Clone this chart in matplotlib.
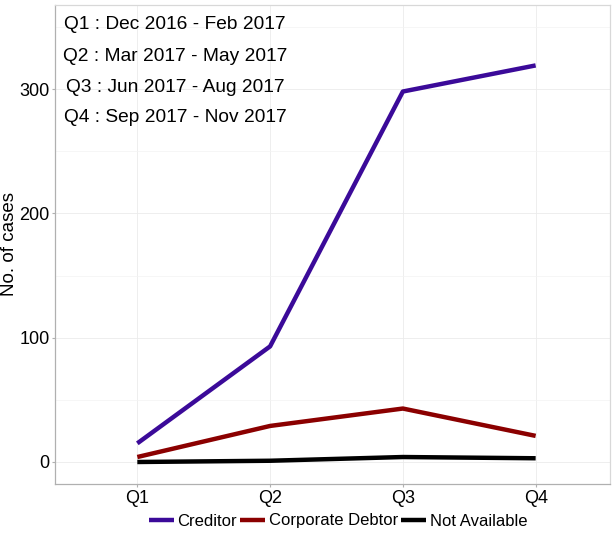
import matplotlib
matplotlib.use("Agg")
import matplotlib.pyplot as plt
from matplotlib.ticker import MultipleLocator

quarters = ["Q1", "Q2", "Q3", "Q4"]
creditor = [15, 93, 298, 319]
corporate_debtor = [4, 29, 43, 21]
not_available = [0, 1, 4, 3]
notes = ["Q1 : Dec 2016 - Feb 2017", "Q2 : Mar 2017 - May 2017",
         "Q3 : Jun 2017 - Aug 2017", "Q4 : Sep 2017 - Nov 2017"]
note_y = [352, 326.5, 301, 277]

plt.rcParams['font.family'] = ['Liberation Sans', 'DejaVu Sans']

fig = plt.figure(figsize=(6.12, 5.34), dpi=100)
ax = fig.add_axes([55/612, 50/534, 555/612, 479/534])

x = list(range(len(quarters)))
ax.plot(x, creditor, color="#3b0a99", lw=3.2, label="Creditor", solid_capstyle="butt")
ax.plot(x, corporate_debtor, color="#8b0000", lw=3.2, label="Corporate Debtor", solid_capstyle="butt")
ax.plot(x, not_available, color="black", lw=3.2, label="Not Available", solid_capstyle="butt")

for t, yy in zip(notes, note_y):
    ax.text(0.286, yy, t, ha="center", va="center", fontsize=13.8, color="black")

ax.set_xlim(-0.62, 3.56)
ax.set_ylim(-17.7, 367.6)
ax.set_xticks(x)
ax.set_xticklabels(quarters)
ax.yaxis.set_major_locator(MultipleLocator(100))
ax.yaxis.set_minor_locator(MultipleLocator(50))
ax.grid(True, which="major", color="#ebebeb", lw=0.6)
ax.grid(True, which="minor", axis="y", color="#f3f3f3", lw=0.5)
ax.set_axisbelow(True)
ax.tick_params(axis="both", which="major", labelsize=13, length=2.5, color="#b0b0b0", pad=1.5)
ax.tick_params(axis="both", which="minor", length=0)
for s in ax.spines.values():
    s.set_color("#b0b0b0")
    s.set_linewidth(0.9)
ax.spines["top"].set_color("#d8d8d8")
ax.spines["right"].set_color("#d8d8d8")
ax.set_ylabel("No. of cases", fontsize=13.5)
ax.yaxis.set_label_coords(-37/555, 0.5)

fig.legend(loc="center", bbox_to_anchor=(338/612, (534-521)/534), ncol=3,
           frameon=False, fontsize=12, handlelength=1.5, handletextpad=0.2,
           columnspacing=0.2, borderaxespad=0)

fig.savefig("out.png", dpi=100)
